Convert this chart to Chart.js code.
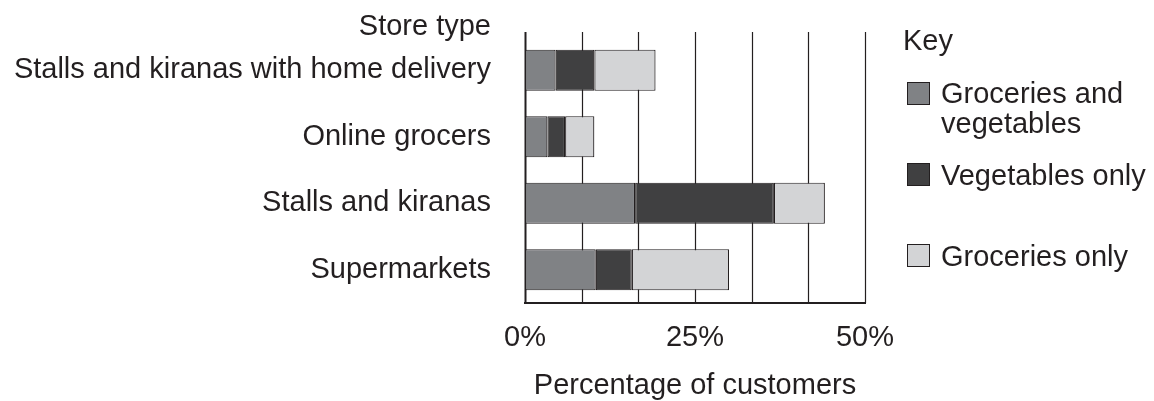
<!DOCTYPE html>
<html>
<head>
<meta charset="utf-8">
<script src="https://cdn.jsdelivr.net/npm/chart.js@4/dist/chart.umd.min.js"></script>
<style>
  html, body { margin: 0; padding: 0; background: #ffffff; }
  #wrap { position: relative; width: 1154px; height: 401px; }
</style>
</head>
<body>
<div id="wrap"><canvas id="c" width="1154" height="401"></canvas></div>
<script>
const storeTypes = ['Stalls and kiranas with home delivery', 'Online grocers', 'Stalls and kiranas', 'Supermarkets'];
const groceriesAndVegetables = [4.5, 3.3, 16.2, 10.4];
const vegetablesOnly = [5.7, 2.6, 20.4, 5.3];
const groceriesOnly = [9.0, 4.3, 7.5, 14.3];
const seriesNames = ['Groceries and vegetables', 'Vegetables only', 'Groceries only'];
const xTickValues = [0, 25, 50];
const gridValues = [0, 50 / 6, 100 / 6, 25, 200 / 6, 250 / 6, 50];

const INK = '#231f20';
const FONT = '"Liberation Sans", Arial, Helvetica, sans-serif';
const colors = ['#808285', '#404041', '#d3d4d6'];

const gridPlugin = {
  id: 'gridPlugin',
  beforeDatasetsDraw(chart) {
    const {ctx, chartArea, scales} = chart;
    ctx.save();
    gridValues.forEach((v, i) => {
      const x = Math.round(scales.x.getPixelForValue(v)) + 0.5;
      ctx.beginPath();
      ctx.lineWidth = (i === 0) ? 2 : 1.2;
      ctx.strokeStyle = INK;
      ctx.moveTo(x, chartArea.top - 5);
      ctx.lineTo(x, chartArea.bottom);
      ctx.stroke();
    });
    ctx.restore();
  },
  afterDraw(chart) {
    const {ctx} = chart;
    ctx.save();
    ctx.fillStyle = INK;
    ctx.font = '29px ' + FONT;
    ctx.textBaseline = 'alphabetic';
    ctx.textAlign = 'right';
    ctx.fillText('Store type', 491, 35);
    // Key
    ctx.textAlign = 'left';
    ctx.fillText('Key', 903, 50);
    const items = [
      {lines: ['Groceries and', 'vegetables'], sq: 82, base: [103, 133]},
      {lines: ['Vegetables only'], sq: 163, base: [185]},
      {lines: ['Groceries only'], sq: 244, base: [266]}
    ];
    items.forEach((it, i) => {
      ctx.fillStyle = colors[i];
      ctx.fillRect(907, it.sq, 23, 23);
      ctx.strokeStyle = INK;
      ctx.lineWidth = 1;
      ctx.strokeRect(907.5, it.sq + 0.5, 22, 22);
      ctx.fillStyle = INK;
      it.lines.forEach((t, j) => ctx.fillText(t, 941, it.base[j]));
    });
    ctx.restore();
  }
};

new Chart(document.getElementById('c'), {
  type: 'bar',
  data: {
    labels: storeTypes,
    datasets: [
      {label: seriesNames[0], data: groceriesAndVegetables},
      {label: seriesNames[1], data: vegetablesOnly},
      {label: seriesNames[2], data: groceriesOnly}
    ].map((d, i) => Object.assign(d, {
      backgroundColor: colors[i],
      borderColor: INK,
      borderWidth: 1.2,
      borderSkipped: false,
      categoryPercentage: 1,
      barPercentage: 0.62
    }))
  },
  options: {
    indexAxis: 'y',
    responsive: false,
    animation: false,
    events: [],
    layout: {padding: {top: 37, right: 289, bottom: 0, left: 0}},
    plugins: {legend: {display: false}, tooltip: {enabled: false}},
    scales: {
      x: {
        stacked: true,
        min: 0, max: 50,
        afterFit(s) { s.height = 98; s.paddingLeft = 0; s.paddingRight = 0; },
        afterBuildTicks(s) { s.ticks = xTickValues.map(v => ({value: v})); },
        grid: {display: false, drawTicks: false},
        border: {display: true, color: INK, width: 2},
        ticks: {
          color: INK, padding: 18,
          font: {family: FONT, size: 29},
          maxRotation: 0,
          callback: v => v + '%'
        },
        title: {
          display: true, text: 'Percentage of customers', color: INK,
          font: {family: FONT, size: 29}, padding: {top: 0, bottom: -2}
        }
      },
      y: {
        stacked: true,
        afterFit(s) { s.width = 525; s.paddingTop = 0; s.paddingBottom = 0; },
        grid: {display: false, drawTicks: false},
        border: {display: false},
        ticks: {color: INK, padding: 34, font: {family: FONT, size: 29}}
      }
    }
  },
  plugins: [gridPlugin]
});
</script>
</body>
</html>
